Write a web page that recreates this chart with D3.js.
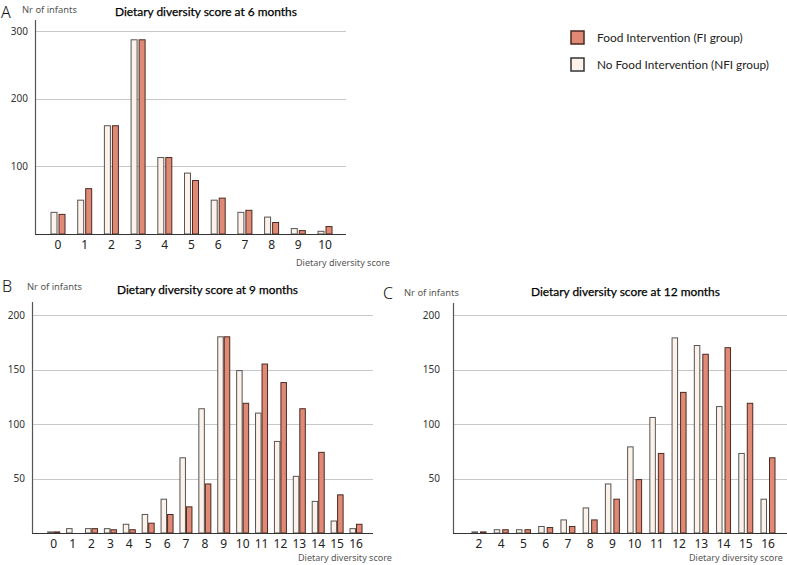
<!DOCTYPE html>
<html>
<head>
<meta charset="utf-8">
<script src="https://cdn.jsdelivr.net/npm/d3@7"></script>
<style>
  body { margin: 0; background: #fff; }
  svg { display: block; }
</style>
</head>
<body>
<svg id="chart" width="787" height="565"></svg>
<script>
// ---------- DATA ----------
const scoresA = ["0","1","2","3","4","5","6","7","8","9","10"];
const nfiA = [32, 50, 160, 287, 113, 90, 50, 32, 25, 8, 4];
const fiA  = [29, 67, 160, 287, 113, 79, 53, 35, 17, 5, 11];

const scoresB = ["0","1","2","3","4","5","6","7","8","9","10","11","12","13","14","15","16"];
const nfiB = [1, 4, 4, 4, 8, 17, 31, 69, 114, 180, 149, 110, 84, 52, 29, 11, 4];
const fiB  = [1, 0, 4, 3, 3, 9, 17, 24, 45, 180, 119, 155, 138, 114, 74, 35, 8];

const scoresC = ["2","4","5","6","7","8","9","10","11","12","13","14","15","16"];
const nfiC = [1, 3, 3, 6, 12, 23, 45, 79, 106, 179, 172, 116, 73, 31];
const fiC  = [1, 3, 3, 5, 6, 12, 31, 49, 73, 129, 164, 170, 119, 69];

const yTicksA = [100, 200, 300];
const yTicksBC = [50, 100, 150, 200];

const titles = ["Dietary diversity score at 6 months", "Dietary diversity score at 9 months", "Dietary diversity score at 12 months"];
const legendLabels = ["Food Intervention (FI group)", "No Food Intervention (NFI group)"];
const yLabel = "Nr of infants";
const xLabel = "Dietary diversity score";

// ---------- STYLE ----------
const RED = "#e08a76", WHITE = "#fdf2ea";
const FONT_T = "Lato, 'Open Sans', sans-serif";
const FONT_N = "'Noto Sans', 'DejaVu Sans', sans-serif";

const svg = d3.select("#chart");

function fitText(sel, width) {
  const node = sel.node();
  const len = node.getComputedTextLength();
  const fs = parseFloat(sel.attr("font-size"));
  if (len > 0) sel.attr("font-size", (fs * width / len).toFixed(2));
  return sel;
}

const panels = [
  { letter: "A", letterX: 1, letterY: 17.5,
    cats: scoresA, nfi: nfiA, fi: fiA, yMax: 300, yTicks: yTicksA,
    axisX: 35, axisTop: 20, x0: 58, x1: 325, right: 346, base: 234, top: 31,
    labelEnd: 28, bw: 6, gap: 2,
    title: titles[0], titleX: 115, titleW: 182, titleY: 16,
    yLabX: 22, yLabY: 13, xLabX: 296, xLabY: 266, tickY: 249 },
  { letter: "B", letterX: 2, letterY: 292,
    cats: scoresB, nfi: nfiB, fi: fiB, yMax: 200, yTicks: yTicksBC,
    axisX: 32, axisTop: 302, x0: 53.7, x1: 356, right: 373, base: 533, top: 315,
    labelEnd: 25, bw: 5.5, gap: 1,
    title: titles[1], titleX: 117, titleW: 181, titleY: 294,
    yLabX: 27, yLabY: 290, xLabX: 298, xLabY: 561, tickY: 548 },
  { letter: "C", letterX: 383, letterY: 299,
    cats: scoresC, nfi: nfiC, fi: fiC, yMax: 200, yTicks: yTicksBC,
    axisX: 453, axisTop: 303, x0: 479, x1: 768, right: 787, base: 533, top: 315,
    labelEnd: 440, bw: 5.5, gap: 3,
    title: titles[2], titleX: 531, titleW: 189, titleY: 296,
    yLabX: 404, yLabY: 296, xLabX: 689, xLabY: 561, tickY: 548 }
];

panels.forEach(p => {
  const g = svg.append("g");
  const y = d3.scaleLinear().domain([0, p.yMax]).range([p.base, p.top]);
  const x = d3.scalePoint().domain(p.cats).range([p.x0, p.x1]);

  // gridlines
  g.append("g").selectAll("line").data(p.yTicks).join("line")
    .attr("x1", p.axisX).attr("x2", p.right)
    .attr("y1", d => Math.round(y(d)) + 0.5).attr("y2", d => Math.round(y(d)) + 0.5)
    .attr("stroke", "#c8c8c8").attr("stroke-width", 1.2);

  // y tick labels
  g.append("g").selectAll("text").data(p.yTicks).join("text")
    .attr("x", p.labelEnd).attr("y", d => y(d) + 3.5)
    .attr("text-anchor", "end").attr("font-family", FONT_N).attr("font-size", 10)
    .attr("fill", "#333").text(d => d);

  // bars
  const bars = g.append("g");
  p.cats.forEach((c, i) => {
    const cx = x(c);
    bars.append("rect")
      .attr("x", cx - p.gap / 2 - p.bw).attr("width", p.bw)
      .attr("y", y(p.nfi[i])).attr("height", Math.max(0, p.base - y(p.nfi[i])))
      .attr("fill", WHITE).attr("stroke", "#555").attr("stroke-width", 1);
    if (p.fi[i] > 0) bars.append("rect")
      .attr("x", cx + p.gap / 2).attr("width", p.bw)
      .attr("y", y(p.fi[i])).attr("height", Math.max(0, p.base - y(p.fi[i])))
      .attr("fill", RED).attr("stroke", "#4a2a22").attr("stroke-width", 1);
  });

  // y axis line
  g.append("line").attr("x1", p.axisX + 0.5).attr("x2", p.axisX + 0.5)
    .attr("y1", p.axisTop).attr("y2", p.base)
    .attr("stroke", "#555").attr("stroke-width", 1.2);
  // baseline
  g.append("line").attr("x1", p.axisX).attr("x2", p.right)
    .attr("y1", p.base + 0.5).attr("y2", p.base + 0.5)
    .attr("stroke", "#333").attr("stroke-width", 1.2);

  // x tick labels
  g.append("g").selectAll("text").data(p.cats).join("text")
    .attr("x", d => x(d)).attr("y", p.tickY)
    .attr("text-anchor", "middle").attr("font-family", FONT_N).attr("font-size", 12)
    .attr("fill", "#222").text(d => d);

  // title
  const t = g.append("text").attr("x", p.titleX).attr("y", p.titleY)
    .attr("font-family", FONT_T).attr("font-size", 13).attr("font-weight", 400)
    .attr("fill", "#000").attr("stroke", "#000").attr("stroke-width", 0.25).text(p.title);
  fitText(t, p.titleW);

  // axis labels
  const yl = g.append("text").attr("x", p.yLabX).attr("y", p.yLabY)
    .attr("font-family", FONT_N).attr("font-size", 10).attr("fill", "#555").text(yLabel);
  fitText(yl, 55);
  const xl = g.append("text").attr("x", p.xLabX).attr("y", p.xLabY)
    .attr("font-family", FONT_N).attr("font-size", 10).attr("fill", "#555").text(xLabel);
  fitText(xl, 94);

  // panel letter
  g.append("text").attr("x", p.letterX).attr("y", p.letterY)
    .attr("font-family", FONT_N).attr("font-size", 16).attr("font-weight", 300)
    .attr("fill", "#111").text(p.letter);
});

// ---------- LEGEND ----------
const legend = svg.append("g");
const legendFill = [RED, WHITE];
const legendStroke = ["#4a2a22", "#333"];
const legendW = [146, 172];
legendLabels.forEach((lab, i) => {
  const yy = 31 + i * 27;
  legend.append("rect").attr("x", 571).attr("y", yy).attr("width", 13).attr("height", 13)
    .attr("fill", legendFill[i]).attr("stroke", legendStroke[i]).attr("stroke-width", 1.5);
  const t = legend.append("text").attr("x", 597).attr("y", yy + 11)
    .attr("font-family", FONT_T).attr("font-size", 12).attr("fill", "#222").text(lab);
  fitText(t, legendW[i]);
});
</script>
</body>
</html>
